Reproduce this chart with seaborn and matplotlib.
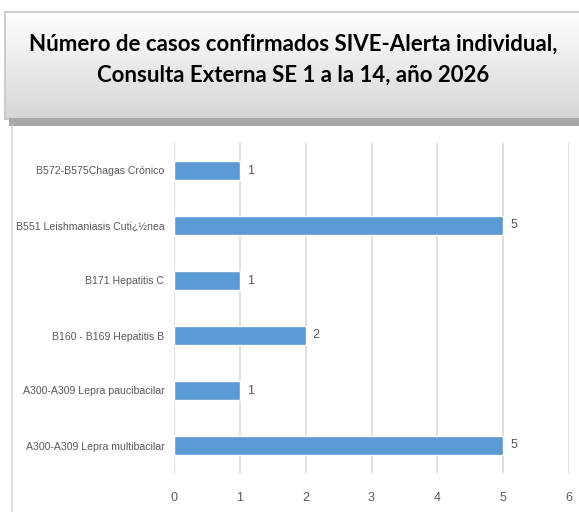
import numpy as np
import pandas as pd
import matplotlib.pyplot as plt
import seaborn as sns
from matplotlib.patches import Rectangle

categorias = [
    "B572-B575Chagas Crónico",
    "B551 Leishmaniasis Cuti¿½nea",
    "B171 Hepatitis C",
    "B160 - B169 Hepatitis B",
    "A300-A309 Lepra paucibacilar",
    "A300-A309 Lepra multibacilar",
]
casos = [1, 5, 1, 2, 1, 5]
ticks_x = [0, 1, 2, 3, 4, 5, 6]

titulo = "Número de casos confirmados SIVE-Alerta individual,\nConsulta Externa SE 1 a la 14, año 2026"

df = pd.DataFrame({"categoria": categorias, "casos": casos})

sns.set_style("white")
plt.rcParams["font.family"] = ["Liberation Sans", "DejaVu Sans"]

W, H = 579, 512
fig = plt.figure(figsize=(W / 100, H / 100), dpi=100)

# caja del titulo con degradado y sombra
fig.patches.append(Rectangle((9 / W, 1 - 126 / H), 1, 8 / H, transform=fig.transFigure,
                             facecolor="#a9a9a9", edgecolor="none", zorder=0))
tax = fig.add_axes([5 / W, 1 - 119 / H, 1, 107 / H])
grad = np.linspace(1, 0, 256).reshape(-1, 1)
tax.imshow(grad, aspect="auto", cmap=sns.blend_palette(["#d6d6d6", "#ffffff"], as_cmap=True),
           extent=[0, 1, 0, 1], vmin=0, vmax=1)
tax.set_xlim(0, 1)
tax.set_ylim(0, 1)
tax.set_xticks([])
tax.set_yticks([])
for s in tax.spines.values():
    s.set_color("#c4c4c4")
    s.set_linewidth(1.2)
fig.text(0.5 * (5 + 582) / W, 1 - 60 / H, titulo, ha="center", va="center",
         fontsize=16, fontweight="bold", family=["Lato", "DejaVu Sans"],
         linespacing=1.6, color="black")

# linea vertical izquierda
fig.add_artist(plt.Line2D([11.5 / W, 11.5 / W], [0, 1 - 126 / H], transform=fig.transFigure,
                          color="#d9d9d9", linewidth=1.2))

ax = fig.add_axes([174 / W, 1 - 473 / H, (569 - 174) / W, 330 / H])
sns.barplot(data=df, x="casos", y="categoria", orient="h", color="#5b9bd5",
            width=0.36, saturation=1, ax=ax)
ax.set_xlim(0, 6)
ax.set_xticks(ticks_x)
ax.set_xlabel("")
ax.set_ylabel("")
ax.grid(axis="x", color="#d9d9d9", linewidth=1.2)
ax.set_axisbelow(True)
for s in ax.spines.values():
    s.set_visible(False)
ax.tick_params(axis="x", colors="#595959", labelsize=9, length=0, pad=14)
ax.tick_params(axis="y", colors="#595959", labelsize=7.6, length=0, pad=7)
for c in ax.containers:
    ax.bar_label(c, fmt="%d", padding=5, color="#595959", fontsize=9)

fig.savefig("out.png", dpi=100)
